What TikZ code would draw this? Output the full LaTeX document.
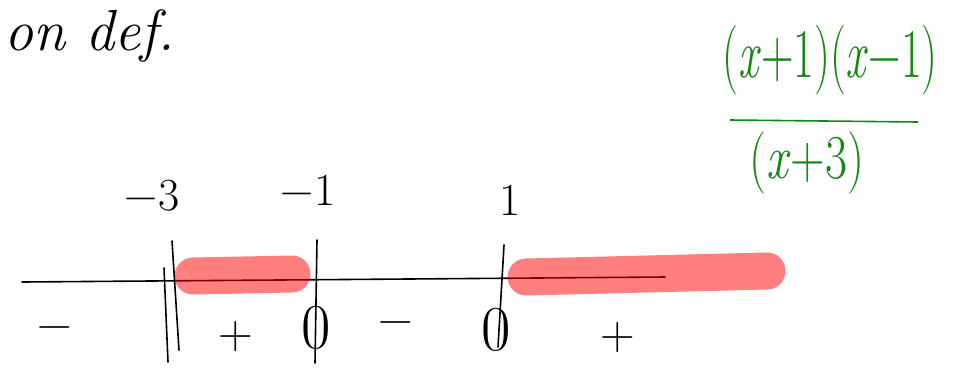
\documentclass[tikz,border=0pt]{standalone}
\usepackage{fontspec}
\usepackage{graphicx}
\definecolor{pengreen}{RGB}{20,135,20}
\tikzset{
  ink/.style={line width=1.6pt, black, line cap=round},
  hilite/.style={line width=37pt, red, opacity=0.5, line cap=round},
  lbl/.style={inner sep=0pt, font=\fontsize{46}{50}\selectfont},
  sgn/.style={inner sep=0pt, font=\fontsize{48}{52}\selectfont},
  zer/.style={inner sep=0pt, font=\fontsize{64}{68}\selectfont},
  grn/.style={inner sep=0pt, text=pengreen, font=\fontsize{45}{50}\selectfont},
}
\begin{document}
\begin{tikzpicture}[x=1pt,y=-1pt]
\useasboundingbox (0,0) rectangle (974,384);
% heading
\node[anchor=base west, inner sep=0pt, font=\fontsize{58}{62}\selectfont\itshape] (title) at (4,50) {on def.};
% number line
\coordinate (L) at (22,282);
\coordinate (R) at (665,277);
\draw[ink] (L) -- (R);
% ticks
\coordinate (a1) at (164,268); \coordinate (a2) at (168,362);
\coordinate (b1) at (172,241); \coordinate (b2) at (179,350);
\coordinate (c1) at (317,240); \coordinate (c2) at (315,363);
\coordinate (d1) at (504,245); \coordinate (d2) at (498,347);
\draw[ink] (a1) -- (a2);
\draw[ink] (b1) -- (b2);
\draw[ink] (c1) -- (c2);
\draw[ink] (d1) -- (d2);
% labels
\node[lbl] (m3) at (152,196) {−3};
\node[lbl] (m1) at (308,190) {−1};
\node[lbl] (p1) at (510,200) {1};
% signs
\node[sgn] (s1) at (55,333) {−};
\node[sgn] (s2) at (236,337) {+};
\node[zer] (z1) at (316,328) {0};
\node[sgn] (s3) at (396,328) {−};
\node[zer] (z2) at (496,330) {0};
\node[sgn] (s4) at (618,338) {+};
% highlights
\coordinate (h1) at (193,276); \coordinate (h2) at (292,274);
\coordinate (h3) at (526,277); \coordinate (h4) at (767,271);
\draw[hilite] (h1) -- (h2);
\draw[hilite] (h3) -- (h4);
% fraction
\node[grn] (num) at (830,60) {\scalebox{1}[1.55]{(\textit{x}+1)(\textit{x}−1)}};
\node[grn, font=\fontsize{48}{52}\selectfont] (den) at (807,163) {\scalebox{1}[1.3]{(\textit{x}+3)}};
\coordinate (fl) at (730,120); \coordinate (fr) at (918,122);
\draw[line width=1.6pt, pengreen] (fl) -- (fr);
\end{tikzpicture}
\end{document}
